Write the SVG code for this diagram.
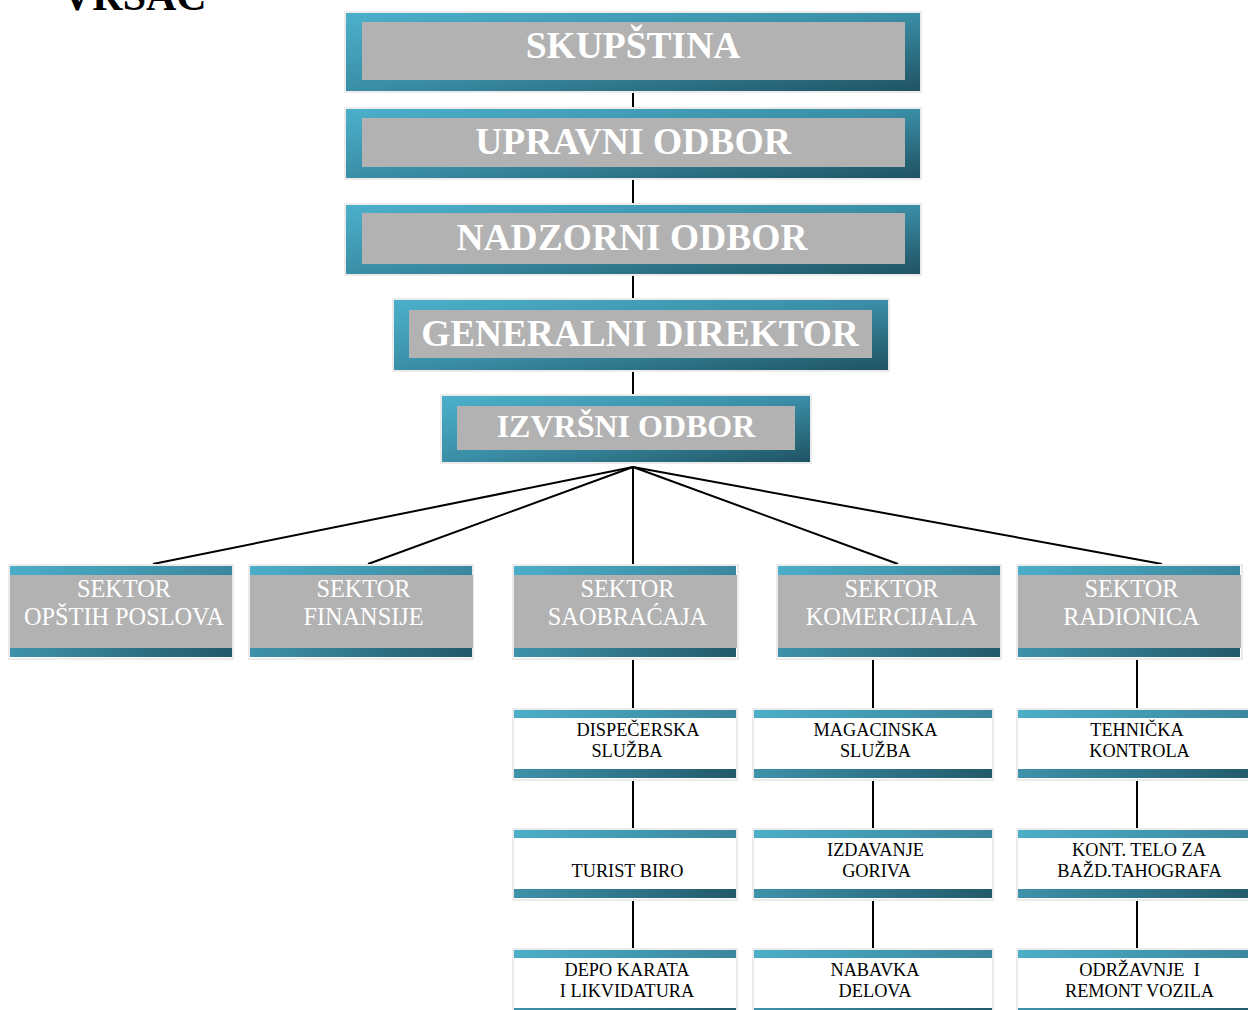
<svg xmlns="http://www.w3.org/2000/svg" width="1248" height="1010" viewBox="0 0 1248 1010">
<defs>
<linearGradient id="gDiag" x1="0" y1="0" x2="1" y2="1">
<stop offset="0" stop-color="#4cb0cb"/>
<stop offset="0.5" stop-color="#3a8ea6"/>
<stop offset="1" stop-color="#1f5363"/>
</linearGradient>
<linearGradient id="gTop" x1="0" y1="0" x2="1" y2="0">
<stop offset="0" stop-color="#4cadc8"/>
<stop offset="1" stop-color="#3a879d"/>
</linearGradient>
<linearGradient id="gBot" x1="0" y1="0" x2="1" y2="0">
<stop offset="0" stop-color="#3e92a9"/>
<stop offset="1" stop-color="#22596a"/>
</linearGradient>
</defs>
<style>
.frame{fill:#ffffff;stroke:#ebebeb;stroke-width:2}
.gray{fill:#b2b2b2}
.big{font-family:"Liberation Serif","Times New Roman",serif;font-weight:bold;fill:#ffffff;text-anchor:middle}
.sec{font-family:"Liberation Serif","Times New Roman",serif;font-size:24.3px;fill:#ffffff;text-anchor:middle}
.sub{font-family:"Liberation Serif","Times New Roman",serif;font-size:18.3px;fill:#000000;text-anchor:middle}
.conn line{stroke:#000000;stroke-width:2}
</style>

<text x="62" y="10" font-family="Liberation Serif, Times New Roman, serif" font-weight="bold" font-size="42" fill="#000">VRSAC</text>

<g class="conn" id="connectors">
<line x1="633" y1="91" x2="633" y2="109"/>
<line x1="633" y1="178" x2="633" y2="205"/>
<line x1="633" y1="274" x2="633" y2="300"/>
<line x1="633" y1="370" x2="633" y2="396"/>
<line x1="633" y1="467" x2="153" y2="564"/>
<line x1="633" y1="467" x2="368" y2="564"/>
<line x1="633" y1="467" x2="633" y2="564"/>
<line x1="633" y1="467" x2="898" y2="564"/>
<line x1="633" y1="467" x2="1162" y2="564"/>
<line x1="633" y1="658" x2="633" y2="709"/>
<line x1="633" y1="779" x2="633" y2="829"/>
<line x1="633" y1="899" x2="633" y2="949"/>
<line x1="873" y1="658" x2="873" y2="709"/>
<line x1="873" y1="779" x2="873" y2="829"/>
<line x1="873" y1="899" x2="873" y2="949"/>
<line x1="1137" y1="658" x2="1137" y2="709"/>
<line x1="1137" y1="779" x2="1137" y2="829"/>
<line x1="1137" y1="899" x2="1137" y2="949"/>
</g>

<g id="skupstina">
<rect class="frame" x="345" y="12" width="576" height="80"/>
<rect x="346" y="13" width="574" height="78" fill="url(#gDiag)"/>
<rect class="gray" x="362" y="22" width="543" height="58"/>
<text class="big" x="633" y="58" font-size="37.5">SKUPŠTINA</text>
</g>
<g id="upravni">
<rect class="frame" x="345" y="108" width="576" height="71"/>
<rect x="346" y="109" width="574" height="69" fill="url(#gDiag)"/>
<rect class="gray" x="362" y="118" width="543" height="49"/>
<text class="big" x="633" y="154" font-size="37.6">UPRAVNI ODBOR</text>
</g>
<g id="nadzorni">
<rect class="frame" x="345" y="204" width="576" height="71"/>
<rect x="346" y="205" width="574" height="69" fill="url(#gDiag)"/>
<rect class="gray" x="362" y="213" width="543" height="51"/>
<text class="big" x="632" y="250" font-size="37.5">NADZORNI ODBOR</text>
</g>
<g id="generalni">
<rect class="frame" x="393" y="299" width="496" height="72"/>
<rect x="394" y="300" width="494" height="70" fill="url(#gDiag)"/>
<rect class="gray" x="409" y="310" width="463" height="48"/>
<text class="big" x="640" y="346" font-size="37.3">GENERALNI DIREKTOR</text>
</g>
<g id="izvrsni">
<rect class="frame" x="441" y="395" width="370" height="68"/>
<rect x="442" y="396" width="368" height="66" fill="url(#gDiag)"/>
<rect class="gray" x="457" y="406" width="338" height="44"/>
<text class="big" x="626" y="437" font-size="32">IZVRŠNI ODBOR</text>
</g>

<g id="sektor-opstih">
<rect class="frame" x="9" y="565" width="224" height="94"/>
<rect x="10" y="566" width="222" height="9" fill="url(#gTop)"/>
<rect class="gray" x="10" y="575" width="222" height="73"/>
<rect x="10" y="648" width="222" height="9" fill="url(#gBot)"/>
<text class="sec" x="124" y="597">SEKTOR</text>
<text class="sec" x="124" y="625">OPŠTIH POSLOVA</text>
</g>
<g id="sektor-finansije">
<rect class="frame" x="249" y="565" width="224" height="94"/>
<rect x="250" y="566" width="222" height="9" fill="url(#gTop)"/>
<rect class="gray" x="250" y="575" width="223" height="73"/>
<rect x="250" y="648" width="222" height="9" fill="url(#gBot)"/>
<text class="sec" x="363.5" y="597">SEKTOR</text>
<text class="sec" x="363.5" y="625">FINANSIJE</text>
</g>
<g id="sektor-saobracaja">
<rect class="frame" x="513" y="565" width="225" height="94"/>
<rect x="514" y="566" width="222" height="9" fill="url(#gTop)"/>
<rect class="gray" x="514" y="575" width="223" height="73"/>
<rect x="514" y="648" width="222" height="9" fill="url(#gBot)"/>
<text class="sec" x="627.5" y="597">SEKTOR</text>
<text class="sec" x="627.5" y="625">SAOBRAĆAJA</text>
</g>
<g id="sektor-komercijala">
<rect class="frame" x="777" y="565" width="224" height="94"/>
<rect x="778" y="566" width="222" height="9" fill="url(#gTop)"/>
<rect class="gray" x="778" y="575" width="222" height="73"/>
<rect x="778" y="648" width="222" height="9" fill="url(#gBot)"/>
<text class="sec" x="891.5" y="597">SEKTOR</text>
<text class="sec" x="891.5" y="625">KOMERCIJALA</text>
</g>
<g id="sektor-radionica">
<rect class="frame" x="1017" y="565" width="225" height="94"/>
<rect x="1018" y="566" width="222" height="9" fill="url(#gTop)"/>
<rect class="gray" x="1018" y="575" width="223" height="73"/>
<rect x="1018" y="648" width="222" height="9" fill="url(#gBot)"/>
<text class="sec" x="1131.5" y="597">SEKTOR</text>
<text class="sec" x="1131.5" y="625">RADIONICA</text>
</g>

<g id="dispecerska">
<rect class="frame" x="513" y="709" width="224" height="71"/>
<rect x="514" y="710" width="222" height="8" fill="url(#gTop)"/>
<rect x="514" y="769" width="222" height="9" fill="url(#gBot)"/>
<text class="sub" x="638" y="736">DISPEČERSKA</text>
<text class="sub" x="627" y="757">SLUŽBA</text>
</g>
<g id="magacinska">
<rect class="frame" x="753" y="709" width="240" height="71"/>
<rect x="754" y="710" width="238" height="8" fill="url(#gTop)"/>
<rect x="754" y="769" width="238" height="9" fill="url(#gBot)"/>
<text class="sub" x="875.5" y="736">MAGACINSKA</text>
<text class="sub" x="875.5" y="757">SLUŽBA</text>
</g>
<g id="tehnicka">
<rect class="frame" x="1017" y="709" width="240" height="71"/>
<rect x="1018" y="710" width="238" height="8" fill="url(#gTop)"/>
<rect x="1018" y="769" width="238" height="9" fill="url(#gBot)"/>
<text class="sub" x="1137" y="736">TEHNIČKA</text>
<text class="sub" x="1139.5" y="757">KONTROLA</text>
</g>

<g id="turist-biro">
<rect class="frame" x="513" y="829" width="224" height="71"/>
<rect x="514" y="830" width="222" height="8" fill="url(#gTop)"/>
<rect x="514" y="889" width="222" height="9" fill="url(#gBot)"/>
<text class="sub" x="627.5" y="877">TURIST BIRO</text>
</g>
<g id="izdavanje">
<rect class="frame" x="753" y="829" width="240" height="71"/>
<rect x="754" y="830" width="238" height="8" fill="url(#gTop)"/>
<rect x="754" y="889" width="238" height="9" fill="url(#gBot)"/>
<text class="sub" x="875.5" y="856">IZDAVANJE</text>
<text class="sub" x="876.5" y="877">GORIVA</text>
</g>
<g id="kont-telo">
<rect class="frame" x="1017" y="829" width="240" height="71"/>
<rect x="1018" y="830" width="238" height="8" fill="url(#gTop)"/>
<rect x="1018" y="889" width="238" height="9" fill="url(#gBot)"/>
<text class="sub" x="1139" y="856">KONT. TELO ZA</text>
<text class="sub" x="1139.5" y="877">BAŽD.TAHOGRAFA</text>
</g>

<g id="depo-karata">
<rect class="frame" x="513" y="949" width="224" height="71"/>
<rect x="514" y="950" width="222" height="8" fill="url(#gTop)"/>
<rect x="514" y="1008" width="222" height="9" fill="url(#gBot)"/>
<text class="sub" x="627" y="976">DEPO KARATA</text>
<text class="sub" x="627" y="997">I LIKVIDATURA</text>
</g>
<g id="nabavka">
<rect class="frame" x="753" y="949" width="240" height="71"/>
<rect x="754" y="950" width="238" height="8" fill="url(#gTop)"/>
<rect x="754" y="1008" width="238" height="9" fill="url(#gBot)"/>
<text class="sub" x="875" y="976">NABAVKA</text>
<text class="sub" x="875" y="997">DELOVA</text>
</g>
<g id="odrzavanje">
<rect class="frame" x="1017" y="949" width="240" height="71"/>
<rect x="1018" y="950" width="238" height="8" fill="url(#gTop)"/>
<rect x="1018" y="1008" width="238" height="9" fill="url(#gBot)"/>
<text class="sub" x="1139.5" y="976" xml:space="preserve">ODRŽAVNJE  I</text>
<text class="sub" x="1139.5" y="997">REMONT VOZILA</text>
</g>
</svg>
